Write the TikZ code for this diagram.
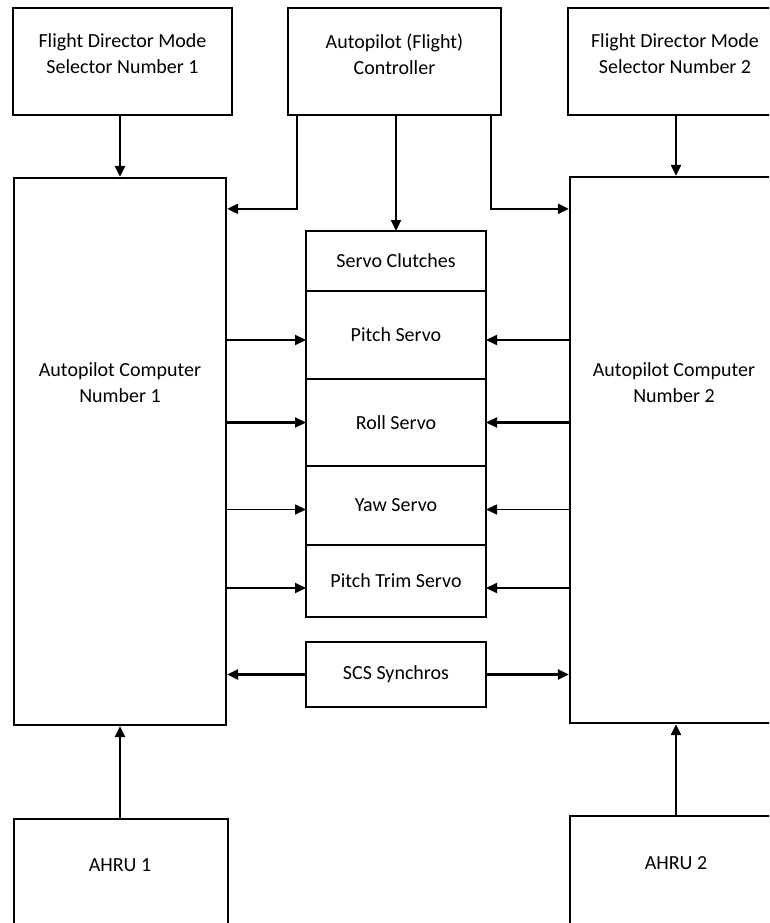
\documentclass[tikz,border=0pt]{standalone}
\usepackage{fontspec}
\setmainfont{Carlito}
\usepackage{tikz}
\usetikzlibrary{arrows.meta,positioning}
\tikzset{
    every picture/.style={line join=miter},
    unitbox/.style={draw=black,fill=white,line width=2.3pt,inner sep=0pt,
      align=center},
    servobox/.style={unitbox,minimum width=180pt,outer sep=0pt},
    boxtext/.style={inner sep=0pt,align=center},
    flowarrow/.style={-{Triangle[length=11pt,width=10pt]},draw=black,
      line width=2.2pt}
}

\begin{document}
\begin{tikzpicture}[x=1pt,y=-1pt,font=\fontsize{20}{26}\selectfont]
  \clip (0,0) rectangle (769,923);
  \fill[white] (0,0) rectangle (769,923);
  % top row
  \node[unitbox,minimum width=219pt,minimum height=107pt] (fdms1) at (122.5,61.5) {};
  \node[boxtext] (fdms1txt) at (122.5,54) {Flight Director Mode\\Selector Number 1};
  \node[unitbox,minimum width=213pt,minimum height=107pt] (apctl) at (394.5,61.5) {};
  \node[boxtext] (apctltxt) at (394.5,54) {Autopilot (Flight)\\Controller};
  \node[unitbox,minimum width=214pt,minimum height=107pt] (fdms2) at (675,61.5) {};
  \node[boxtext] (fdms2txt) at (675,54) {Flight Director Mode\\Selector Number 2};
  % computers
  \node[unitbox,minimum width=212pt,minimum height=547pt] (apc1) at (120,451.5) {};
  \node[boxtext] (apc1txt) at (120,382.5) {Autopilot Computer\\Number 1};
  \node[unitbox,minimum width=212pt,minimum height=546pt] (apc2) at (676,450) {};
  \node[boxtext] (apc2txt) at (674,382.5) {Autopilot Computer\\Number 2};
  % servo stack
  \node[servobox,minimum height=60pt] (clutch) at (396,261) {Servo Clutches};
  \node[servobox,minimum height=88pt,below=0pt of clutch] (pitch) {Pitch Servo};
  \node[servobox,minimum height=87pt,below=0pt of pitch] (roll) {Roll Servo};
  \node[servobox,minimum height=79pt,below=0pt of roll] (yaw) {Yaw Servo};
  \node[servobox,minimum height=72pt,below=0pt of yaw] (trim) {Pitch Trim Servo};
  \node[servobox,minimum height=65pt] (scs) at (396,674.5) {SCS Synchros};
  % attitude units
  \node[unitbox,minimum width=214pt,minimum height=130pt] (ahru1) at (121,884) {};
  \node[boxtext] (ahru1txt) at (120,865) {AHRU 1};
  \node[unitbox,minimum width=212pt,minimum height=134pt] (ahru2) at (676,883) {};
  \node[boxtext] (ahru2txt) at (676,863) {AHRU 2};
  % servo inputs
  \coordinate (pitchl) at ([yshift=-5pt]pitch.west);
  \coordinate (pitchr) at ([yshift=-5pt]pitch.east);
  \coordinate (yawl) at ([yshift=-4pt]yaw.west);
  \coordinate (yawr) at ([yshift=-4pt]yaw.east);
  \coordinate (triml) at ([yshift=-7pt]trim.west);
  \coordinate (trimr) at ([yshift=-7pt]trim.east);
  % connectors
  \draw[flowarrow] (apc1.north |- fdms1.south) -- (apc1.north);
  \draw[flowarrow] (apc2.north |- fdms2.south) -- (apc2.north);
  \draw[flowarrow] ([xshift=10pt]apctl.south west) |- ([yshift=-32pt]apc1.north east);
  \draw[flowarrow] (clutch.north |- apctl.south) -- (clutch.north);
  \draw[flowarrow] ([xshift=-11pt]apctl.south east) |- ([yshift=-33pt]apc2.north west);
  \draw[flowarrow] (apc1.east |- pitchl) -- (pitchl);
  \draw[flowarrow] (apc1.east |- roll.west) -- (roll.west);
  \draw[flowarrow,line width=1.6pt] (apc1.east |- yawl) -- (yawl);
  \draw[flowarrow] (apc1.east |- triml) -- (triml);
  \draw[flowarrow] (apc2.west |- pitchr) -- (pitchr);
  \draw[flowarrow] (apc2.west |- roll.east) -- (roll.east);
  \draw[flowarrow,line width=1.6pt] (apc2.west |- yawr) -- (yawr);
  \draw[flowarrow] (apc2.west |- trimr) -- (trimr);
  \draw[flowarrow] (scs.west) -- (apc1.east |- scs.west);
  \draw[flowarrow] (scs.east) -- (apc2.west |- scs.east);
  \draw[flowarrow] (apc1.south |- ahru1.north) -- (apc1.south);
  \draw[flowarrow] (apc2.south |- ahru2.north) -- (apc2.south);
\end{tikzpicture}
\end{document}
